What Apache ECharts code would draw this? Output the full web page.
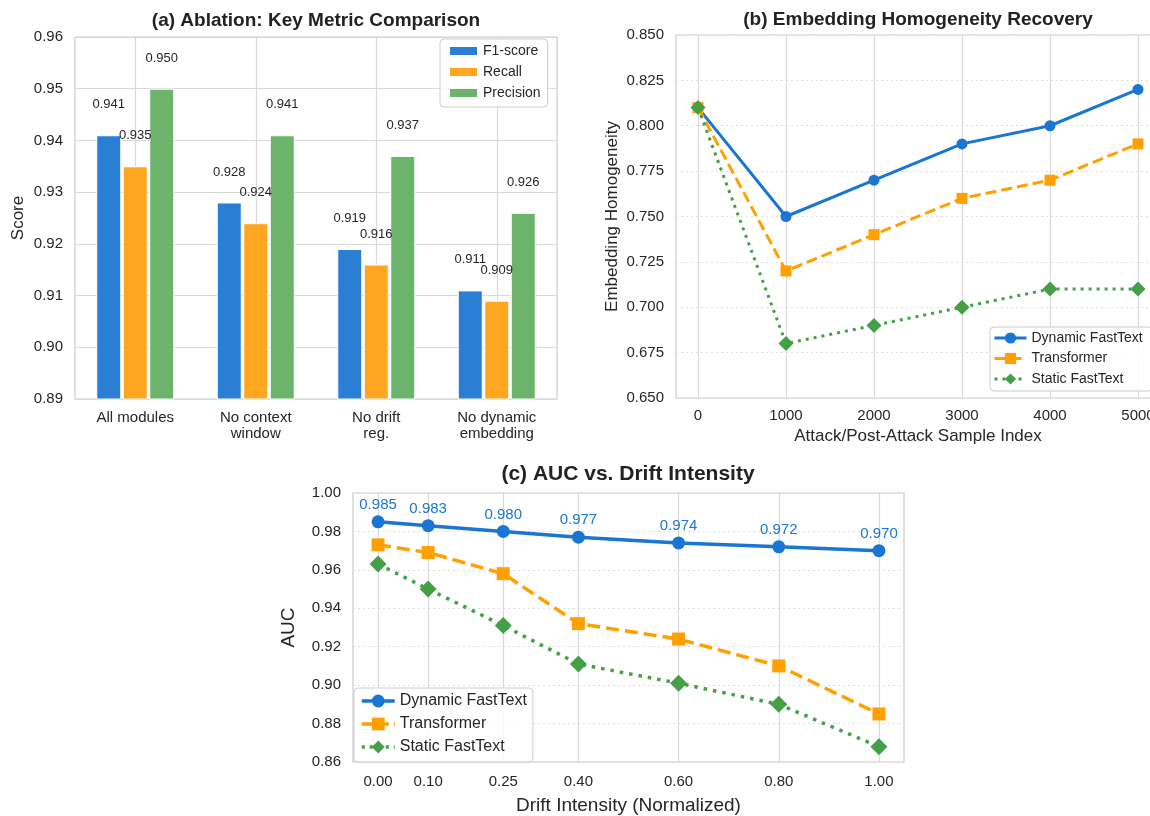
<!DOCTYPE html>
<html>
<head>
<meta charset="utf-8">
<script src="https://cdn.jsdelivr.net/npm/echarts@6/dist/echarts.min.js"></script>
<style>
html,body{margin:0;padding:0;background:#fff;overflow:hidden;width:1150px;height:816px;}
#chart{width:1175px;height:816px;}
</style>
</head>
<body>
<div id="chart"></div>
<script>
// ---- Data ----
const catsA = ['All modules', 'No context\nwindow', 'No drift\nreg.', 'No dynamic\nembedding'];
const f1A = [0.941, 0.928, 0.919, 0.911];
const recallA = [0.935, 0.924, 0.916, 0.909];
const precisionA = [0.950, 0.941, 0.937, 0.926];

const samplesB = [0, 1000, 2000, 3000, 4000, 5000];
const dynB = [0.81, 0.75, 0.77, 0.79, 0.80, 0.82];
const trfB = [0.81, 0.72, 0.74, 0.76, 0.77, 0.79];
const staB = [0.81, 0.68, 0.69, 0.70, 0.71, 0.71];

const driftC = [0.00, 0.10, 0.25, 0.40, 0.60, 0.80, 1.00];
const dynC = [0.985, 0.983, 0.980, 0.977, 0.974, 0.972, 0.970];
const trfC = [0.973, 0.969, 0.958, 0.932, 0.924, 0.910, 0.885];
const staC = [0.963, 0.950, 0.931, 0.911, 0.901, 0.890, 0.868];

const seriesNames = ['Dynamic FastText', 'Transformer', 'Static FastText'];
const barNames = ['F1-score', 'Recall', 'Precision'];

// ---- Styles ----
const FONT = 'Liberation Sans, Arial, sans-serif';
const TXT = '#262626';
const GRID = '#d9d9d9';
const BORDER = '#cccccc';
const BLUE = '#1976D2', ORANGE = '#FFA000', GREEN = '#43A047';
const barColors = ['#2a7fd5', '#ffa621', '#6cb46c'];

const pair = (xs, ys) => xs.map((x, i) => [x, ys[i]]);

const chart = echarts.init(document.getElementById('chart'), null, {renderer: 'canvas'});

function lineSeries(name, data, gi, color, symbol, size, width, dash, extra) {
  return Object.assign({
    type: 'line', name: name, xAxisIndex: gi, yAxisIndex: gi, data: data,
    symbol: symbol, symbolSize: size,
    itemStyle: {color: color},
    lineStyle: {color: color, width: width, type: dash},
    emphasis: {disabled: true}, animation: false
  }, extra || {});
}

const option = {
  animation: false,
  textStyle: {fontFamily: FONT, color: TXT},
  title: [
    {text: '(a) Ablation: Key Metric Comparison', left: 316, top: 11, textAlign: 'center', padding: 0,
     textStyle: {fontSize: 19, fontWeight: 'bold', color: '#222', fontFamily: FONT}},
    {text: '(b) Embedding Homogeneity Recovery', left: 918, top: 10, textAlign: 'center', padding: 0,
     textStyle: {fontSize: 19, fontWeight: 'bold', color: '#222', fontFamily: FONT}},
    {text: '(c) AUC vs. Drift Intensity', left: 628, top: 464, textAlign: 'center', padding: 0,
     textStyle: {fontSize: 21, fontWeight: 'bold', color: '#222', fontFamily: FONT}}
  ],
  grid: [
    {left: 75, top: 37, width: 482, height: 362, show: true, borderColor: BORDER, borderWidth: 1.2, containLabel: false},
    {left: 676, top: 35, width: 484, height: 363, show: true, borderColor: BORDER, borderWidth: 1.2, containLabel: false},
    {left: 353, top: 493, width: 551, height: 270, show: true, borderColor: BORDER, borderWidth: 1.2, containLabel: false}
  ],
  legend: [
    {data: barNames, orient: 'vertical', left: 440, top: 39, itemWidth: 29, itemHeight: 10, itemGap: 7,
     icon: 'rect', padding: [5, 7, 7, 8], backgroundColor: 'rgba(255,255,255,0.85)',
     borderColor: BORDER, borderWidth: 1, borderRadius: 4,
     textStyle: {fontSize: 14, lineHeight: 14, color: TXT, fontFamily: FONT}},
    {data: seriesNames, orient: 'vertical', left: 990, top: 327, itemWidth: 32, itemHeight: 14, itemGap: 6.5,
     padding: [4, 10, 5, 3], backgroundColor: 'rgba(255,255,255,0.85)',
     borderColor: BORDER, borderWidth: 1, borderRadius: 4,
     lineStyle: {width: 3},
     textStyle: {fontSize: 14, lineHeight: 14, color: TXT, fontFamily: FONT}},
    {data: seriesNames, orient: 'vertical', left: 354, top: 688, itemWidth: 33, itemHeight: 16, itemGap: 7,
     padding: [5, 6, 7, 6], backgroundColor: 'rgba(255,255,255,0.85)',
     borderColor: BORDER, borderWidth: 1, borderRadius: 4,
     lineStyle: {width: 3.5},
     textStyle: {fontSize: 16, lineHeight: 16, color: TXT, fontFamily: FONT}}
  ],
  xAxis: [
    {type: 'category', gridIndex: 0, data: catsA,
     axisLine: {show: false}, axisTick: {show: false},
     axisLabel: {interval: 0, fontSize: 15, lineHeight: 16, margin: 11, color: TXT},
     splitLine: {show: true, alignWithLabel: true, lineStyle: {color: GRID, width: 1.2}}},
    {type: 'value', gridIndex: 1, min: -250, max: 5250,
     name: 'Attack/Post-Attack Sample Index', nameLocation: 'middle', nameGap: 30,
     nameTextStyle: {fontSize: 17, color: TXT},
     axisLine: {show: false},
     axisTick: {show: false, customValues: samplesB},
     axisLabel: {customValues: samplesB, fontSize: 15, margin: 10, color: TXT, formatter: v => String(v)},
     splitLine: {show: true, lineStyle: {color: GRID, width: 1.2}}},
    {type: 'value', gridIndex: 2, min: -0.05, max: 1.05,
     name: 'Drift Intensity (Normalized)', nameLocation: 'middle', nameGap: 34,
     nameTextStyle: {fontSize: 19, color: TXT},
     axisLine: {show: false},
     axisTick: {show: false, customValues: driftC},
     axisLabel: {customValues: driftC, fontSize: 15, margin: 12, color: TXT, formatter: v => v.toFixed(2)},
     splitLine: {show: true, lineStyle: {color: GRID, width: 1.2}}}
  ],
  yAxis: [
    {type: 'value', gridIndex: 0, min: 0.89, max: 0.96, interval: 0.01,
     name: 'Score', nameLocation: 'middle', nameGap: 48, nameTextStyle: {fontSize: 17, color: TXT},
     axisLine: {show: false}, axisTick: {show: false},
     axisLabel: {fontSize: 15, margin: 12, color: TXT, formatter: v => v.toFixed(2)},
     splitLine: {show: true, lineStyle: {color: GRID, width: 1.2}}},
    {type: 'value', gridIndex: 1, min: 0.65, max: 0.85, interval: 0.025,
     name: 'Embedding Homogeneity', nameLocation: 'middle', nameGap: 55, nameTextStyle: {fontSize: 17, color: TXT},
     axisLine: {show: false}, axisTick: {show: false},
     axisLabel: {fontSize: 15, margin: 12, color: TXT, formatter: v => v.toFixed(3)},
     splitLine: {show: true, lineStyle: {color: '#e0e0e0', width: 1, type: [2, 3]}}},
    {type: 'value', gridIndex: 2, min: 0.86, max: 1.00, interval: 0.02,
     name: 'AUC', nameLocation: 'middle', nameGap: 55, nameTextStyle: {fontSize: 19, color: TXT},
     axisLine: {show: false}, axisTick: {show: false},
     axisLabel: {fontSize: 15, margin: 12, color: TXT, formatter: v => v.toFixed(2)},
     splitLine: {show: true, lineStyle: {color: '#e0e0e0', width: 1, type: [2, 3]}}}
  ],
  series: [
    ...[f1A, recallA, precisionA].map((d, i) => ({
      type: 'bar', name: barNames[i], xAxisIndex: 0, yAxisIndex: 0, data: d,
      barWidth: 25, barGap: '6%',
      itemStyle: {color: barColors[i], borderColor: '#ffffff', borderWidth: 1},
      label: {show: true, position: 'top', distance: 24, fontSize: 13, color: TXT,
              formatter: p => p.value.toFixed(3)},
      emphasis: {disabled: true}, animation: false
    })),
    lineSeries(seriesNames[0], pair(samplesB, dynB), 1, BLUE, 'circle', 11, 3, 'solid'),
    lineSeries(seriesNames[1], pair(samplesB, trfB), 1, ORANGE, 'rect', 11, 3, [11, 5]),
    lineSeries(seriesNames[2], pair(samplesB, staB), 1, GREEN, 'diamond', 15, 3, [3, 5]),
    lineSeries(seriesNames[0], pair(driftC, dynC), 2, BLUE, 'circle', 13, 3.5, 'solid',
      {label: {show: true, position: 'top', distance: 3, fontSize: 15, color: BLUE,
               formatter: p => p.value[1].toFixed(3)}}),
    lineSeries(seriesNames[1], pair(driftC, trfC), 2, ORANGE, 'rect', 13, 3.5, [13, 6]),
    lineSeries(seriesNames[2], pair(driftC, staC), 2, GREEN, 'diamond', 17, 3.5, [3.5, 6])
  ]
};
chart.setOption(option);
</script>
</body>
</html>
